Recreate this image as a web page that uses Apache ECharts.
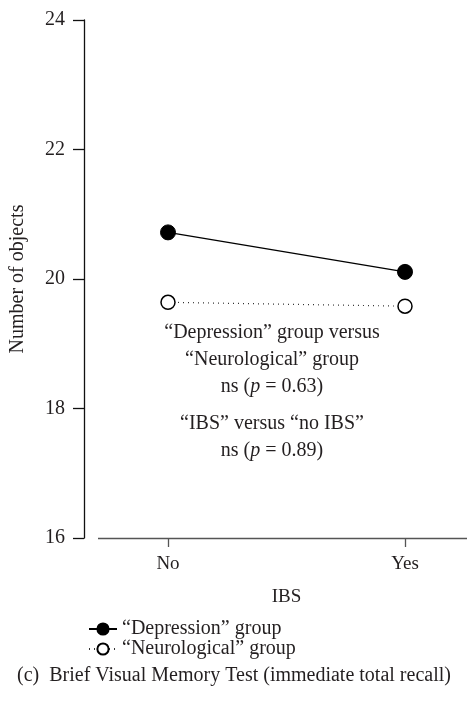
<!DOCTYPE html>
<html>
<head>
<meta charset="utf-8">
<script src="https://cdn.jsdelivr.net/npm/echarts@6/dist/echarts.min.js"></script>
<style>
  html, body { margin: 0; padding: 0; background: #fff; }
  #chart { width: 468px; height: 716px; }
</style>
</head>
<body>
<div id="chart"></div>
<script>
// 数据
const categories = ['No', 'Yes'];
const depressionData = [20.72, 20.11];
const neuroData = [19.64, 19.58];
const seriesNames = ['\u201cDepression\u201d group', '\u201cNeurological\u201d group'];
const yTicks = { min: 16, max: 24, step: 2 };

const FONT = '"Liberation Serif", "DejaVu Serif", serif';
const INK = '#231f20';

const chart = echarts.init(document.getElementById('chart'), null, { renderer: 'canvas' });

let option = {
  animation: false,
  textStyle: { fontFamily: FONT, color: INK },
  // 绘图区: 两个类别的中心分别在 x=168 和 x=405
  grid: { left: 168, right: 63, top: 20, bottom: 178, containLabel: false },
  legend: {
    orient: 'vertical',
    left: 83,
    top: 614,
    itemWidth: 28,
    itemHeight: 14,
    itemGap: 0,
    textStyle: { fontFamily: FONT, fontSize: 20, color: INK },
    data: seriesNames
  },
  xAxis: {
    type: 'category',
    data: categories,
    boundaryGap: false,
    name: 'IBS',
    nameLocation: 'middle',
    nameGap: 50,
    nameTextStyle: { fontFamily: FONT, fontSize: 19, color: INK },
    axisLine: { show: false },
    axisTick: { show: true, alignWithLabel: true, length: 9, lineStyle: { color: '#555', width: 1.3 } },
    axisLabel: { fontFamily: FONT, fontSize: 19, color: INK, margin: 17 },
    splitLine: { show: false }
  },
  yAxis: {
    type: 'value',
    min: yTicks.min,
    max: yTicks.max,
    interval: yTicks.step,
    offset: 84,
    name: 'Number of objects',
    nameLocation: 'middle',
    nameRotate: 90,
    nameGap: 56,
    nameTextStyle: { fontFamily: FONT, fontSize: 20, color: INK },
    axisLine: { show: true, lineStyle: { color: '#111', width: 1.3 } },
    axisTick: { show: true, length: 11, lineStyle: { color: '#111', width: 1.3 } },
    axisLabel: { fontFamily: FONT, fontSize: 20, color: INK, margin: 19 },
    splitLine: { show: false }
  },
  series: [
    {
      name: seriesNames[0],
      type: 'line',
      data: depressionData,
      symbol: 'circle',
      symbolSize: 15,
      itemStyle: { color: '#000', borderColor: '#000', borderWidth: 1 },
      lineStyle: { color: '#000', width: 1.3, type: 'solid' },
      z: 3
    },
    {
      name: seriesNames[1],
      type: 'line',
      data: neuroData,
      symbol: 'circle',
      symbolSize: 14,
      itemStyle: { color: '#fff', borderColor: '#000', borderWidth: 1.5 },
      lineStyle: { color: '#333', width: 1.2, type: [1, 4] },
      z: 3
    }
  ],
  graphic: [
    // 横轴线(与纵轴分开)
    {
      type: 'line',
      shape: { x1: 98, y1: 538.5, x2: 467, y2: 538.5 },
      style: { stroke: '#555', lineWidth: 1.5 },
      silent: true
    },
    {
      type: 'text',
      x: 272,
      y: 319,
      style: {
        text: '\u201cDepression\u201d group versus\n\u201cNeurological\u201d group\nns ({i|p} = 0.63)',
        fontFamily: FONT, fontSize: 20, fill: INK,
        align: 'center', verticalAlign: 'top', lineHeight: 27,
        rich: { i: { fontStyle: 'italic', fontFamily: FONT, fontSize: 20, fill: INK, lineHeight: 27 } }
      }
    },
    {
      type: 'text',
      x: 272,
      y: 410,
      style: {
        text: '\u201cIBS\u201d versus \u201cno IBS\u201d\nns ({i|p} = 0.89)',
        fontFamily: FONT, fontSize: 20, fill: INK,
        align: 'center', verticalAlign: 'top', lineHeight: 27,
        rich: { i: { fontStyle: 'italic', fontFamily: FONT, fontSize: 20, fill: INK, lineHeight: 27 } }
      }
    },
    {
      type: 'text',
      x: 17,
      y: 676,
      style: {
        text: '(c)  Brief Visual Memory Test (immediate total recall)',
        fontFamily: FONT, fontSize: 20, fill: INK,
        verticalAlign: 'middle'
      }
    }
  ]
};

chart.setOption(option);
</script>
</body>
</html>
